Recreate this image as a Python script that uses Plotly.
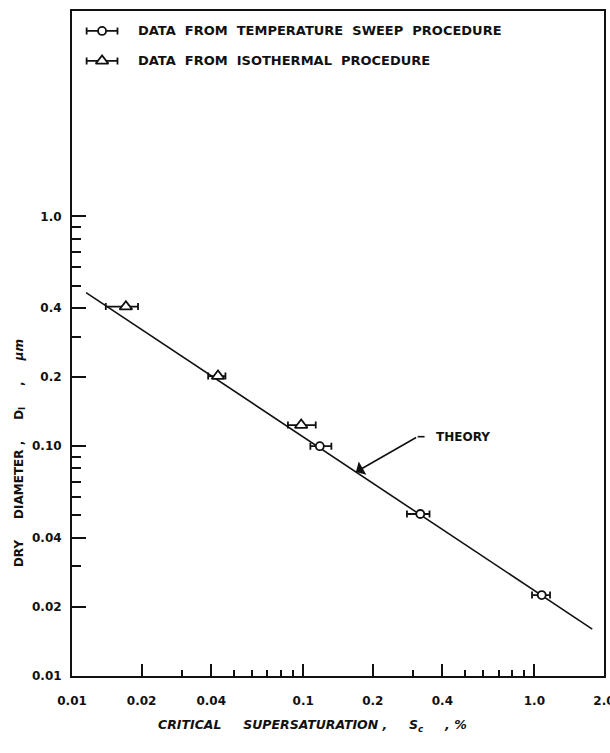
import numpy as np
import plotly.graph_objects as go

# ---------------- data ----------------
# Temperature sweep procedure (circles)
sweep_s = [0.118, 0.321, 1.076]
sweep_d = [0.100, 0.0507, 0.0225]
sweep_s_lo = [0.1074, 0.281, 0.977]
sweep_s_hi = [0.1324, 0.352, 1.169]

# Isothermal procedure (triangles)
iso_s = [0.0171, 0.0428, 0.098]
iso_d = [0.405, 0.202, 0.1236]
iso_s_lo = [0.0140, 0.0388, 0.0859]
iso_s_hi = [0.0193, 0.0461, 0.1133]

# Theory line (D ~ Sc^-2/3)
theory_s = [0.0115, 1.78]
theory_d = [0.466, 0.0160]

# ticks
x_tickvals = [0.01, 0.02, 0.04, 0.1, 0.2, 0.4, 1.0, 2.0]
x_ticktext = ["0.01", "0.02", "0.04", "0.1", "0.2", "0.4", "1.0", "2.0"]
x_minor = [0.03, 0.05, 0.06, 0.07, 0.08, 0.09, 0.3, 0.5, 0.6, 0.7, 0.8, 0.9]
y_tickvals = [0.01, 0.02, 0.04, 0.1, 0.2, 0.4, 1.0]
y_ticktext = ["0.01", "0.02", "0.04", "0.10", "0.2", "0.4", "1.0"]
y_minor = [0.03, 0.05, 0.06, 0.07, 0.08, 0.09, 0.3, 0.5, 0.6, 0.7, 0.8, 0.9]

legend_labels = ["DATA  FROM  TEMPERATURE  SWEEP  PROCEDURE",
                 "DATA  FROM  ISOTHERMAL  PROCEDURE"]

FONT = "DejaVu Sans"
INK = "#111111"

fig = go.Figure()

# theory line
fig.add_trace(go.Scatter(x=theory_s, y=theory_d, mode="lines",
                         line=dict(color=INK, width=1.6), showlegend=False,
                         hoverinfo="skip"))

def err(center, lo, hi):
    plus = [h - c for c, h in zip(center, hi)]
    minus = [c - l for c, l in zip(center, lo)]
    return plus, minus

p, m = err(sweep_s, sweep_s_lo, sweep_s_hi)
fig.add_trace(go.Scatter(
    x=sweep_s, y=sweep_d, mode="markers", showlegend=False,
    marker=dict(symbol="circle", size=8, color="white",
                line=dict(color=INK, width=1.8)),
    error_x=dict(type="data", array=p, arrayminus=m, color=INK,
                 thickness=1.8, width=3.5)))

p, m = err(iso_s, iso_s_lo, iso_s_hi)
fig.add_trace(go.Scatter(
    x=iso_s, y=iso_d, mode="markers", showlegend=False,
    marker=dict(symbol="triangle-up", size=11, color="white",
                line=dict(color=INK, width=1.8)),
    error_x=dict(type="data", array=p, arrayminus=m, color=INK,
                 thickness=1.8, width=3.5)))

# ---- legend keys drawn on a hidden overlay axis (0..1 box coordinates) ----
leg_x = 0.0565
leg_y = [0.970, 0.925]
fig.add_trace(go.Scatter(
    x=[leg_x], y=[leg_y[0]], xaxis="x2", yaxis="y2", mode="markers",
    showlegend=False, hoverinfo="skip",
    marker=dict(symbol="circle", size=8, color="white",
                line=dict(color=INK, width=1.8)),
    error_x=dict(type="constant", value=0.029, color=INK, thickness=1.8, width=3.5)))
fig.add_trace(go.Scatter(
    x=[leg_x], y=[leg_y[1]], xaxis="x2", yaxis="y2", mode="markers",
    showlegend=False, hoverinfo="skip",
    marker=dict(symbol="triangle-up", size=11, color="white",
                line=dict(color=INK, width=1.8)),
    error_x=dict(type="constant", value=0.029, color=INK, thickness=1.8, width=3.5)))

annotations = []
for lbl, yy in zip(legend_labels, leg_y):
    annotations.append(dict(xref="x2", yref="y2", x=0.120, y=yy, text="<b>" + lbl + "</b>",
                            showarrow=False, xanchor="left", yanchor="middle",
                            font=dict(family=FONT, size=13, color=INK)))

# THEORY callout
arrow_s = 0.169
arrow_d = 10 ** np.interp(np.log10(arrow_s), np.log10(theory_s), np.log10(theory_d))
tail_s, tail_d = 0.3126, 0.110
annotations.append(dict(x=np.log10(arrow_s), y=np.log10(arrow_d), xref="x", yref="y",
                        ax=np.log10(tail_s), ay=np.log10(tail_d), axref="x", ayref="y",
                        text="", showarrow=True, arrowhead=1, arrowsize=1.6,
                        arrowwidth=1.6, arrowcolor=INK, standoff=0, startstandoff=0))
annotations.append(dict(x=np.log10(0.368), y=np.log10(tail_d), xref="x", yref="y",
                        text="<b>THEORY</b>", showarrow=False, xanchor="left",
                        yanchor="middle", font=dict(family=FONT, size=12, color=INK)))

shapes = [dict(type="line", xref="x", yref="y", x0=tail_s, x1=0.335, y0=tail_d, y1=tail_d,
               line=dict(color=INK, width=1.6))]

# axis titles
annotations.append(dict(xref="paper", yref="paper", x=0.452, y=-0.074,
                        text="<b><i>CRITICAL     SUPERSATURATION ,     S<sub>c</sub>     , %</i></b>",
                        showarrow=False, xanchor="center", yanchor="middle",
                        font=dict(family=FONT, size=12.5, color=INK)))
annotations.append(dict(xref="paper", yref="paper", x=-0.098, y=0.335,
                        text="<b>DRY     DIAMETER ,     D<sub>I</sub>     ,     <i>μm</i></b>",
                        showarrow=False, textangle=-90, xanchor="center", yanchor="middle",
                        font=dict(family=FONT, size=12, color=INK)))

tickfont = dict(family=FONT, size=12, color=INK, weight="bold")

fig.update_layout(
    width=610, height=753,
    margin=dict(l=72, r=6, t=11, b=77, autoexpand=False),
    paper_bgcolor="white", plot_bgcolor="white",
    showlegend=False,
    xaxis=dict(type="log", range=[-2.0001, 0.3012], showgrid=False, automargin=False,
               showline=True, linecolor=INK, linewidth=2, mirror=True,
               ticks="inside", ticklen=12, tickwidth=1.8, tickcolor=INK,
               tickvals=x_tickvals, ticktext=x_ticktext, tickfont=tickfont,
               ticklabelstandoff=13, ticklabeloverflow="allow",
               minor=dict(tickvals=x_minor, ticks="inside", ticklen=6,
                          tickwidth=1.6, tickcolor=INK, showgrid=False)),
    yaxis=dict(type="log", range=[-2.0001, 0.894], showgrid=False, automargin=False,
               showline=True, linecolor=INK, linewidth=2, mirror=True,
               ticks="inside", ticklen=14, tickwidth=1.8, tickcolor=INK,
               tickvals=y_tickvals, ticktext=y_ticktext, tickfont=tickfont,
               ticklabelstandoff=6,
               minor=dict(tickvals=y_minor, ticks="inside", ticklen=9,
                          tickwidth=1.6, tickcolor=INK, showgrid=False)),
    xaxis2=dict(overlaying="x", range=[0, 1], visible=False),
    yaxis2=dict(overlaying="y", range=[0, 1], visible=False),
    annotations=annotations,
    shapes=shapes,
)

fig.write_html("out.html")
